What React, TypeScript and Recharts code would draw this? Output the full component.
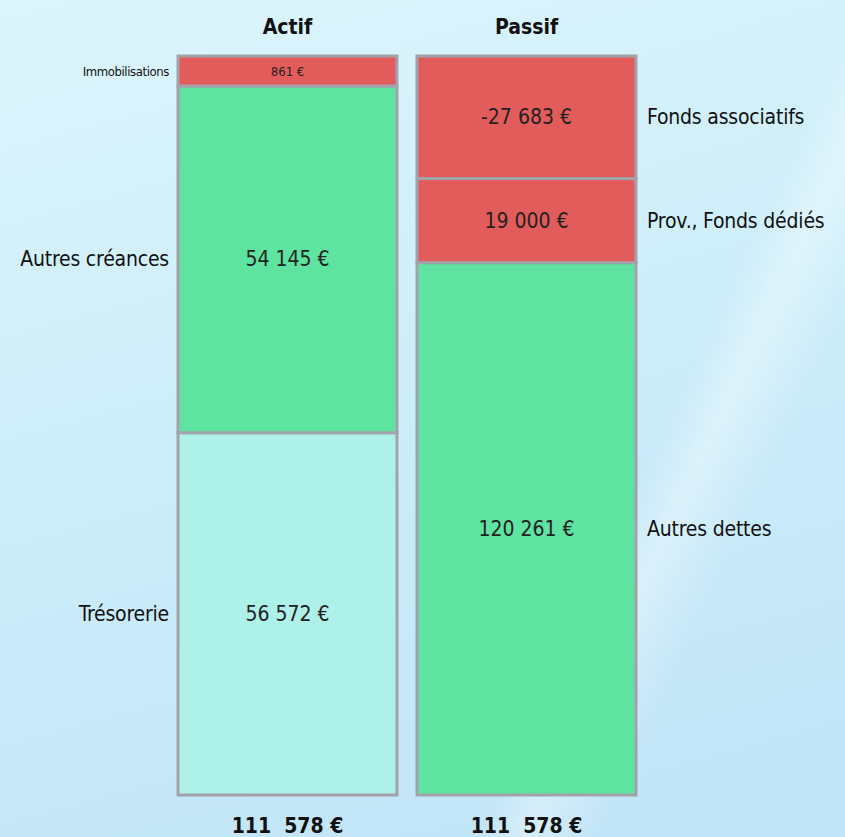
import React from 'react';
import { BarChart, Bar, XAxis, YAxis } from 'recharts';

const categories = ['Actif', 'Passif'];
// segments listed from bottom to top of each column
const actifNames = ['Trésorerie', 'Autres créances', 'Immobilisations'];
const actifValues = [56572, 54145, 861];
const actifColors = ['#adf1e9', '#5ee3a1', '#e35c5c'];
const passifNames = ['Autres dettes', 'Prov., Fonds dédiés', 'Fonds associatifs'];
const passifValues = [120261, 19000, -27683];
const passifColors = ['#5ee3a1', '#e35c5c', '#e35c5c'];
const totals = [111578, 111578];

const levels = ['bottom', 'middle', 'top'];
const MIN_SHARE = 0.0406;
const FONT = "'Liberation Sans Narrow', 'DejaVu Sans Condensed', 'Arial Narrow', sans-serif";

const fmt = (v: number, sep = ' ') => {
  const s = Math.abs(v).toString().replace(/\B(?=(\d{3})+(?!\d))/g, sep);
  return (v < 0 ? '-' : '') + s + ' €';
};

// each column fills the full height; tiny segments get a minimum height
const shares = (values: number[]) => {
  const abs = values.map((v) => Math.abs(v));
  const sum = abs.reduce((a, b) => a + b, 0);
  const small = abs.map((v) => v / sum < MIN_SHARE);
  const rest = abs.filter((_, i) => !small[i]).reduce((a, b) => a + b, 0);
  const left = 1 - MIN_SHARE * small.filter(Boolean).length;
  return abs.map((v, i) => (small[i] ? MIN_SHARE : (v / rest) * left));
};

const columns = [
  { names: actifNames, values: actifValues, colors: actifColors, side: 'left' },
  { names: passifNames, values: passifValues, colors: passifColors, side: 'right' },
];

const data = categories.map((name, i) => {
  const col = columns[i];
  const sh = shares(col.values);
  const row: any = { name, total: totals[i], side: col.side };
  levels.forEach((lv, k) => {
    row[lv] = sh[k];
    row[lv + 'Name'] = col.names[k];
    row[lv + 'Text'] = fmt(col.values[k]);
    row[lv + 'Color'] = col.colors[k];
  });
  return row;
});

const makeShape = (lv: string) => (props: any) => {
  const { x, y, width, height, payload } = props;
  const small = height < 40;
  const cy = y + height / 2;
  const side = payload.side;
  return (
    <g>
      <rect
        x={x}
        y={y}
        width={width}
        height={height}
        fill={payload[lv + 'Color']}
        stroke="#a2a3aa"
        strokeWidth={3}
      />
      <text
        x={x + width / 2}
        y={cy}
        textAnchor="middle"
        dominantBaseline="central"
        fontFamily={FONT}
        fontSize={small ? 13 : 21}
        fill="#222"
      >
        {payload[lv + 'Text']}
      </text>
      <text
        x={side === 'left' ? x - 9 : x + width + 11}
        y={cy}
        textAnchor={side === 'left' ? 'end' : 'start'}
        dominantBaseline="central"
        fontFamily={FONT}
        fontSize={small ? 13 : 21}
        letterSpacing={small ? -0.4 : -0.2}
        fill="#111"
      >
        {payload[lv + 'Name']}
      </text>
    </g>
  );
};

export default function App() {
  return (
    <div
      style={{
        position: 'absolute',
        left: 0,
        top: 0,
        width: 845,
        height: 837,
        background:
          'linear-gradient(115deg, rgba(255,255,255,0) 70%, rgba(255,255,255,0.35) 74%, rgba(255,255,255,0) 80%), linear-gradient(165deg, #dcf5fc 0%, #cdeefa 45%, #bfe3f7 100%)',
      }}
    >
      <BarChart
        width={845}
        height={837}
        data={data}
        margin={{ top: 26, right: 199, bottom: 12, left: 168 }}
        barSize={219}
      >
        <XAxis
          dataKey="name"
          orientation="top"
          axisLine={false}
          tickLine={false}
          tickSize={0}
          tickMargin={22}
          tick={{ fontFamily: FONT, fontSize: 21, fontWeight: 700, fill: '#111' }}
        />
        <XAxis
          xAxisId="bottom"
          dataKey="name"
          orientation="bottom"
          axisLine={false}
          tickLine={false}
          tickSize={0}
          tickMargin={23}
          tickFormatter={(_v: any, i: number) => fmt(totals[i], '\u00a0\u00a0')}
          tick={{ fontFamily: FONT, fontSize: 21, fontWeight: 700, fill: '#111' }}
        />
        <YAxis hide domain={[0, 1]} />
        {levels.map((lv) => (
          <Bar
            key={lv}
            dataKey={lv}
            stackId="a"
            shape={makeShape(lv)}
            isAnimationActive={false}
          />
        ))}
      </BarChart>
    </div>
  );
}
